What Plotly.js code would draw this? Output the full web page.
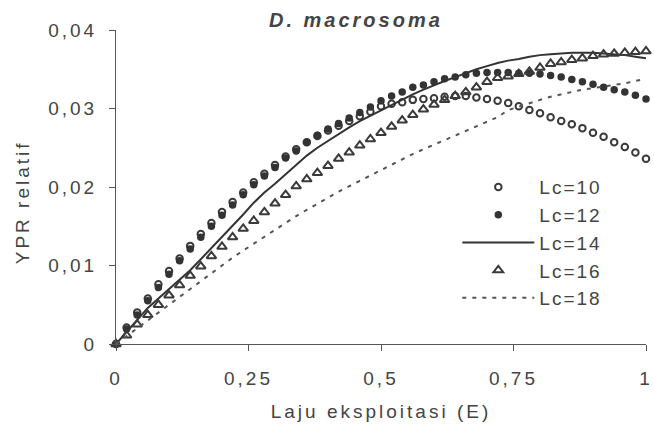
<!DOCTYPE html>
<html>
<head>
<meta charset="utf-8">
<script src="https://cdn.plot.ly/plotly-3.0.1.min.js"></script>
<style>
  html, body { margin: 0; padding: 0; background: #ffffff; }
  #chart { width: 654px; height: 433px; }
  .xtick text, .ytick text { letter-spacing: 3px; }
  .xtitle { letter-spacing: 3px; }
  .annotation-text { letter-spacing: 3px; }
  .legendtext { letter-spacing: 2px; }
</style>
</head>
<body>
<div id="chart"></div>
<script>
// Exploitation rate E
var E = [0, 0.02, 0.04, 0.06, 0.08, 0.10, 0.12, 0.14, 0.16, 0.18,
         0.20, 0.22, 0.24, 0.26, 0.28, 0.30, 0.32, 0.34, 0.36, 0.38,
         0.40, 0.42, 0.44, 0.46, 0.48, 0.50, 0.52, 0.54, 0.56, 0.58,
         0.60, 0.62, 0.64, 0.66, 0.68, 0.70, 0.72, 0.74, 0.76, 0.78,
         0.80, 0.82, 0.84, 0.86, 0.88, 0.90, 0.92, 0.94, 0.96, 0.98, 1.00];

var lc10 = [0, 0.0021, 0.0040, 0.0058, 0.0076, 0.0093, 0.0109, 0.0125, 0.0140, 0.0154,
            0.0168, 0.0181, 0.0193, 0.0206, 0.0217, 0.0228, 0.0239, 0.0248, 0.0257, 0.0265,
            0.0272, 0.0278, 0.0284, 0.0290, 0.0296, 0.0303, 0.0306, 0.0308, 0.0311, 0.0312,
            0.0313, 0.0315, 0.0316, 0.0316, 0.0314, 0.0312, 0.0310, 0.0307, 0.0303, 0.0298,
            0.0294, 0.0289, 0.0284, 0.0280, 0.0275, 0.0269, 0.0264, 0.0257, 0.0251, 0.0244, 0.0236];

var lc12 = [0, 0.0019, 0.0037, 0.0055, 0.0072, 0.0089, 0.0106, 0.0121, 0.0136, 0.0150,
            0.0164, 0.0177, 0.0190, 0.0203, 0.0214, 0.0225, 0.0237, 0.0246, 0.0257, 0.0266,
            0.0274, 0.0281, 0.0288, 0.0295, 0.0302, 0.0310, 0.0316, 0.0321, 0.0327, 0.0330,
            0.0334, 0.0338, 0.0340, 0.0343, 0.0345, 0.0346, 0.0346, 0.0346, 0.0345, 0.0345,
            0.0344, 0.0342, 0.0340, 0.0337, 0.0334, 0.0331, 0.0327, 0.0324, 0.0321, 0.0317, 0.0312];

var lc14 = [0, 0.0015, 0.0031, 0.0046, 0.0058, 0.0070, 0.0081, 0.0094, 0.0108, 0.0122,
            0.0136, 0.0150, 0.0165, 0.0180, 0.0193, 0.0204, 0.0216, 0.0229, 0.0240, 0.0250,
            0.0259, 0.0267, 0.0276, 0.0284, 0.0291, 0.0298, 0.0305, 0.0312, 0.0318, 0.0324,
            0.0330, 0.0335, 0.0340, 0.0345, 0.0350, 0.0354, 0.0358, 0.0361, 0.0363, 0.0366,
            0.0368, 0.0369, 0.0370, 0.0371, 0.0371, 0.0371, 0.0370, 0.0369, 0.0368, 0.0366, 0.0364];

var lc16 = [0, 0.0011, 0.0025, 0.0037, 0.0050, 0.0062, 0.0075, 0.0087, 0.0099, 0.0112,
            0.0124, 0.0136, 0.0147, 0.0157, 0.0168, 0.0179, 0.0190, 0.0201, 0.0210, 0.0218,
            0.0227, 0.0236, 0.0244, 0.0253, 0.0261, 0.0269, 0.0277, 0.0285, 0.0292, 0.0299,
            0.0305, 0.0311, 0.0316, 0.0321, 0.0327, 0.0334, 0.0339, 0.0341, 0.0344, 0.0347,
            0.0352, 0.0357, 0.0359, 0.0362, 0.0364, 0.0367, 0.0369, 0.0370, 0.0371, 0.0372, 0.0373];

var lc18 = [0, 0.0010, 0.0021, 0.0031, 0.0041, 0.0051, 0.0061, 0.0071, 0.0081, 0.0091,
            0.0100, 0.0110, 0.0119, 0.0128, 0.0137, 0.0146, 0.0155, 0.0163, 0.0171, 0.0179,
            0.0187, 0.0194, 0.0201, 0.0208, 0.0215, 0.0222, 0.0229, 0.0236, 0.0242, 0.0248,
            0.0254, 0.0260, 0.0265, 0.0271, 0.0277, 0.0283, 0.0289, 0.0298, 0.0302, 0.0306,
            0.0311, 0.0315, 0.0318, 0.0321, 0.0324, 0.0326, 0.0328, 0.0330, 0.0332, 0.0335, 0.0338];

var seriesNames = ['Lc=10', 'Lc=12', 'Lc=14', 'Lc=16', 'Lc=18'];

var xTickVals = [0, 0.25, 0.5, 0.75, 1];
var xTickText = ['0', '0,25', '0,5', '0,75', '1'];
var yTickVals = [0, 0.01, 0.02, 0.03, 0.04];
var yTickText = ['0', '0,01', '0,02', '0,03', '0,04'];

var ink = '#3a3a3a';
var textColor = '#444444';
var fontFam = 'Liberation Sans, Arial, sans-serif';

var traces = [
  { x: E, y: lc10, name: seriesNames[0], type: 'scatter', mode: 'markers', cliponaxis: false,
    legendgroup: 'a',
    marker: { symbol: 'circle-open', size: 6.5, color: ink, line: { width: 2, color: ink } } },
  { x: E, y: lc12, name: seriesNames[1], type: 'scatter', mode: 'markers', cliponaxis: false,
    legendgroup: 'b',
    marker: { symbol: 'circle', size: 7.5, color: '#333333' } },
  { x: E, y: lc14, name: seriesNames[2], type: 'scatter', mode: 'lines', cliponaxis: false,
    legendgroup: 'c',
    line: { color: '#333333', width: 2 } },
  { x: E, y: lc16, name: seriesNames[3], type: 'scatter', mode: 'markers', cliponaxis: false,
    legendgroup: 'd',
    marker: { symbol: 'triangle-up-open', size: 8.5, color: ink, line: { width: 2, color: ink } } },
  { x: E, y: lc18, name: seriesNames[4], type: 'scatter', mode: 'lines', cliponaxis: false,
    legendgroup: 'e',
    line: { color: '#555555', width: 2, dash: '4px,6px' } }
];

var layout = {
  width: 654, height: 433,
  margin: { l: 116, r: 8, t: 30, b: 89 },
  paper_bgcolor: '#ffffff', plot_bgcolor: '#ffffff',
  font: { family: fontFam, size: 19, color: textColor },
  xaxis: {
    range: [0, 1], showgrid: false, zeroline: false,
    showline: true, linecolor: '#555555', linewidth: 1,
    ticks: 'outside', ticklen: 6, tickcolor: '#555555', tickwidth: 1,
    tickvals: xTickVals, ticktext: xTickText,
    tickfont: { family: fontFam, size: 19, color: textColor },
    ticklabelstandoff: 11,
    title: { text: 'Laju eksploitasi (E)', font: { family: fontFam, size: 19, color: textColor }, standoff: 16 }
  },
  yaxis: {
    range: [0, 0.04], showgrid: false, zeroline: false,
    showline: true, linecolor: '#555555', linewidth: 1,
    ticks: 'outside', ticklen: 6, tickcolor: '#555555', tickwidth: 1,
    tickvals: yTickVals, ticktext: yTickText,
    tickfont: { family: fontFam, size: 19, color: textColor },
    ticklabelstandoff: 8
  },
  annotations: [
    {
      text: '<b><i>D. macrosoma</i></b>', showarrow: false,
      xref: 'paper', x: 0.453, xanchor: 'center',
      yref: 'paper', y: 1.032, yanchor: 'middle',
      font: { family: fontFam, size: 20, color: textColor }
    },
    {
      text: 'YPR relatif', textangle: -90, showarrow: false,
      xref: 'paper', x: -0.177, xanchor: 'center',
      yref: 'paper', y: 0.452, yanchor: 'middle',
      font: { family: fontFam, size: 19, color: textColor }
    }
  ],
  showlegend: true,
  legend: {
    x: 0.644, xanchor: 'left',
    y: 0.56, yanchor: 'top',
    bgcolor: 'rgba(0,0,0,0)', borderwidth: 0,
    itemwidth: 72,
    traceorder: 'grouped', tracegroupgap: 0,
    font: { family: fontFam, size: 19, color: textColor }
  }
};

Plotly.newPlot('chart', traces, layout, { displayModeBar: false, staticPlot: true });
</script>
</body>
</html>
